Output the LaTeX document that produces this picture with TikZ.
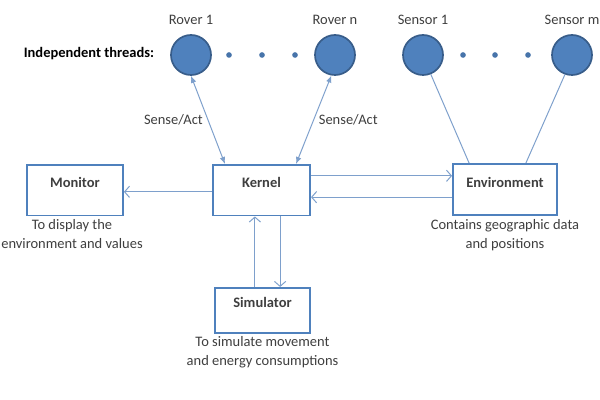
\documentclass[tikz,border=0pt]{standalone}
\usepackage{fontspec}
\setmainfont{Carlito}
\usepackage{tikz}
\usetikzlibrary{shapes,arrows.meta,calc}
\definecolor{boxblue}{HTML}{4F81BD}
\definecolor{darkblue}{HTML}{385D8A}
\definecolor{lineblue}{HTML}{7EA0CC}
\definecolor{txtgray}{HTML}{3F3F3F}
\tikzset{
  thread/.style={circle, fill=boxblue, draw=darkblue, line width=1.2pt, minimum size=1cm, inner sep=0pt},
  block/.style={rectangle, draw=boxblue, line width=1.3pt, fill=white, anchor=north, inner ysep=0pt, font=\fontsize{10.3}{13.3}\selectfont\bfseries},
  flow/.style={draw=lineblue, line width=0.7pt, -{Straight Barb[length=3.5pt,width=8pt]}},
  senseact/.style={draw=lineblue, line width=0.7pt, {Latex[length=5pt,width=4pt]}-{Latex[length=5pt,width=4pt]}},
  link/.style={draw=lineblue, line width=0.7pt}
}

\begin{document}
\begin{tikzpicture}[x=0.025cm,y=-0.025cm,font=\fontsize{10.3}{13.3}\selectfont,text=txtgray]
    \useasboundingbox[fill=white] (0,0) rectangle (600,400);
    % Threads
    \node[font=\fontsize{10.3}{13.3}\selectfont\bfseries, text=black] (threads) at (89,54) {Independent threads:};
    \node[thread, label={[label distance=3pt]above:Rover 1}] (rover1) at (191,55) {};
    \node[thread, label={[label distance=3pt]above:Rover n}] (rovern) at (335,55) {};
    \node[thread, label={[label distance=3pt]above:Sensor 1}] (sensor1) at (423,55) {};
    \node[thread, label={[label distance=3pt]above:Sensor m}] (sensorm) at (572,55) {};
    \foreach \x in {229,262,295,463,495,528}
        \fill[boxblue!90!black] (\x,55) circle (2pt);
    % Boxes
    \node[block, minimum width=2.4cm, text height=16pt, text depth=20pt] (monitor) at (75,164) {Monitor};
    \node[block, minimum width=2.43cm, text height=16pt, text depth=20pt] (kernel) at (261.5,164) {Kernel};
    \node[block, minimum width=2.6cm, text height=16.5pt, text depth=20pt] (env) at (505,163) {Environment};
    \node[block, minimum width=2.38cm, text height=14.2pt, text depth=17.7pt] (simulator) at (262.5,287) {Simulator};
    % Descriptions
    \node[below, align=center, inner sep=2pt] (monitordesc) at ($(monitor.south)+(-3,0)$) {To display the\\environment and values};
    \node[below, align=center, inner sep=2pt] (envdesc) at (env.south) {Contains geographic data\\and positions};
    \node[below, align=center, inner sep=2pt] (simdesc) at (simulator.south) {To simulate movement\\and energy consumptions};
    % Sense/Act links
    \draw[senseact] (rover1.south) -- ($(kernel.north west)+(13,0)$)
        node[midway, left] {Sense/Act};
    \draw[senseact] (rovern.260) -- ($(kernel.north east)+(-15,0)$)
        node[midway, right] {Sense/Act};
    % Sensors to environment
    \draw[link] (sensor1.-68) -- ($(env.north west)+(17,0)$);
    \draw[link] (sensorm.-110) -- ($(env.north east)+(-32,0)$);
    % Data flows
    \draw[flow] ([yshift=-0.04cm]kernel.west) -- ([yshift=-0.04cm]monitor.east);
    \draw[flow] ([yshift=0.36cm]kernel.east) -- ([yshift=0.36cm]kernel.east -| env.west);
    \draw[flow] ([yshift=-0.19cm]env.west) -- ([yshift=-0.19cm]env.west -| kernel.east);
    \draw[flow] ([xshift=-0.19cm]simulator.north) -- ([xshift=-0.19cm]simulator.north |- kernel.south);
    \draw[flow] ([xshift=0.44cm]simulator.north |- kernel.south) -- ([xshift=0.44cm]simulator.north);
\end{tikzpicture}
\end{document}
